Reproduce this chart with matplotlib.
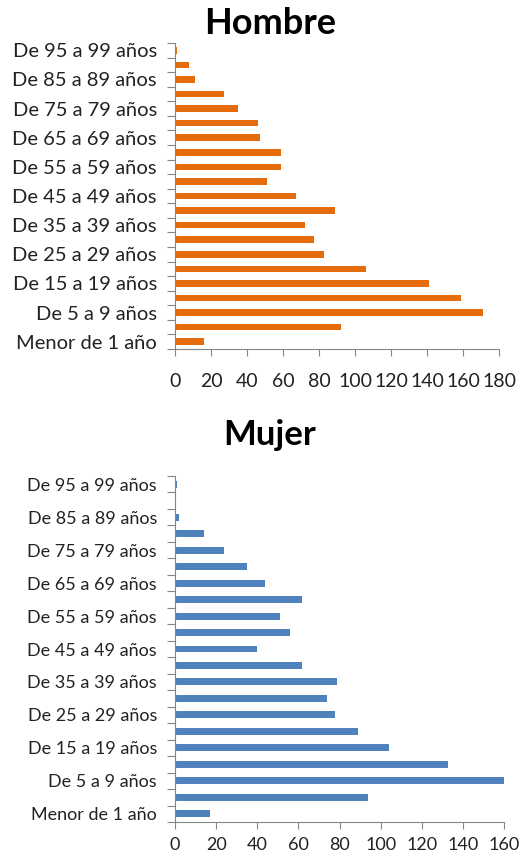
import matplotlib.pyplot as plt
import numpy as np

plt.rcParams['font.family'] = ['Lato', 'DejaVu Sans']

grupos = [
    "Menor de 1 año", "De 1 a 4 años", "De 5 a 9 años", "De 10 a 14 años",
    "De 15 a 19 años", "De 20 a 24 años", "De 25 a 29 años", "De 30 a 34 años",
    "De 35 a 39 años", "De 40 a 44 años", "De 45 a 49 años", "De 50 a 54 años",
    "De 55 a 59 años", "De 60 a 64 años", "De 65 a 69 años", "De 70 a 74 años",
    "De 75 a 79 años", "De 80 a 84 años", "De 85 a 89 años", "De 90 a 94 años",
    "De 95 a 99 años",
]
hombre = [16, 92, 171, 159, 141, 106, 83, 77, 72, 89, 67,
          51, 59, 59, 47, 46, 35, 27, 11, 8, 1]
mujer = [17, 94, 160, 133, 104, 89, 78, 74, 79, 62, 40,
         56, 51, 62, 44, 35, 24, 14, 2, 0, 1]

naranja = "#E46C0A"
azul = "#4F81BD"
gris = "#868686"


def dibujar(ax, valores, color, xmax, tam_y, tam_x, alto, pad_x):
    y = np.arange(len(grupos))
    ax.barh(y, valores, height=alto, color=color)
    ax.set_ylim(-0.5, len(grupos) - 0.5)
    ax.set_xlim(0, xmax)
    ax.set_xticks(np.arange(0, xmax + 1, 20))
    ax.tick_params(axis="x", labelsize=tam_x, color=gris, length=5, pad=pad_x,
                   labelcolor="#222222")
    # marcas entre categorias, etiquetas cada dos grupos
    ax.set_yticks(np.arange(len(grupos) + 1) - 0.5)
    ax.set_yticklabels([])
    ax.set_yticks(y[::2], minor=True)
    ax.set_yticklabels([grupos[i] for i in y[::2]], minor=True, fontsize=tam_y,
                       color="#222222")
    ax.tick_params(axis="y", which="major", color=gris, length=6)
    ax.tick_params(axis="y", which="minor", length=0, pad=13)
    for s in ["top", "right"]:
        ax.spines[s].set_visible(False)
    for s in ["left", "bottom"]:
        ax.spines[s].set_color(gris)


fig = plt.figure(figsize=(5.2, 8.6), dpi=100)
ax1 = fig.add_axes([175 / 520, 1 - 349 / 860, 324 / 520, 306 / 860])
ax2 = fig.add_axes([175 / 520, 1 - 822 / 860, 329 / 520, 346 / 860])

dibujar(ax1, hombre, naranja, 180, 14.5, 14, 0.45, 12)
dibujar(ax2, mujer, azul, 160, 13, 13, 0.42, 6)

fig.text(270 / 520, 1 - 23 / 860, "Hombre", fontsize=26, fontweight="bold",
         ha="center", va="center")
fig.text(270 / 520, 1 - 435 / 860, "Mujer", fontsize=25, fontweight="bold",
         ha="center", va="center")

fig.savefig("out.png", dpi=100)
